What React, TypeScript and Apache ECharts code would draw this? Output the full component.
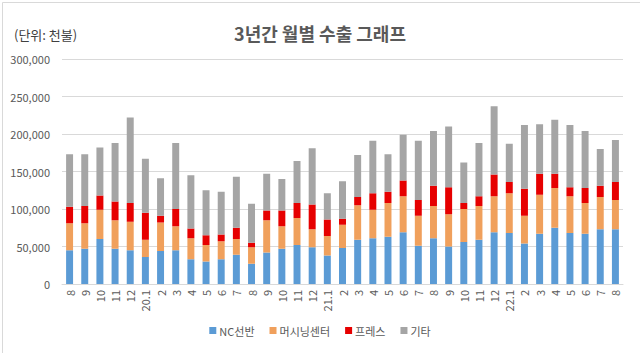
import React, { useEffect, useRef } from "react";
import * as echarts from "echarts";

const categories = [
  "8", "9", "10", "11", "12",
  "20.1", "2", "3", "4", "5", "6", "7", "8", "9", "10", "11", "12",
  "21.1", "2", "3", "4", "5", "6", "7", "8", "9", "10", "11", "12",
  "22.1", "2", "3", "4", "5", "6", "7", "8",
];

const ncLathe = [
  45000, 47000, 60000, 47000, 45000,
  36000, 44000, 45000, 33000, 30000, 33000, 39000, 27000, 42000, 47000, 52000, 49000,
  38000, 48000, 59000, 61000, 63000, 69000, 51000, 61000, 50000, 56000, 59000, 69000,
  68000, 54000, 67000, 75000, 68000, 67000, 73000, 73000,
];
const machiningCenter = [
  36000, 34000, 39000, 38000, 38000,
  23000, 38000, 32000, 28000, 22000, 24000, 21000, 22000, 43000, 30000, 36000, 24000,
  26000, 31000, 46000, 38000, 45000, 48000, 40000, 43000, 43000, 44000, 45000, 48000,
  53000, 37000, 52000, 53000, 49000, 41000, 43000, 39000,
];
const press = [
  22000, 23000, 19000, 25000, 25000,
  36000, 9000, 23000, 13000, 13000, 9000, 15000, 6000, 13000, 21000, 20000, 33000,
  22000, 8000, 11000, 22000, 15000, 21000, 21000, 27000, 36000, 8000, 13000, 29000,
  15000, 36000, 28000, 19000, 12000, 20000, 15000, 24000,
];
const others = [
  70000, 69000, 64000, 78000, 114000,
  72000, 50000, 88000, 71000, 60000, 57000, 68000, 52000, 49000, 42000, 56000, 75000,
  35000, 50000, 56000, 70000, 50000, 61000, 79000, 73000, 81000, 54000, 71000, 91000,
  51000, 85000, 66000, 72000, 83000, 76000, 49000, 56000,
];

const seriesNames = ["NC선반", "머시닝센터", "프레스", "기타"];
const seriesColors = ["#5b9bd5", "#f0a05c", "#e60000", "#a5a5a5"];
const yTicks = [0, 50000, 100000, 150000, 200000, 250000, 300000];

const FONT = "'Noto Sans CJK KR', 'Noto Sans', sans-serif";

export default function App() {
  const ref = useRef<HTMLDivElement>(null);

  useEffect(() => {
    if (!ref.current) return;
    const chart = echarts.init(ref.current, undefined, { renderer: "svg" });
    const data = [ncLathe, machiningCenter, press, others];
    chart.setOption({
      animation: false,
      backgroundColor: "#ffffff",
      textStyle: { fontFamily: FONT },
      title: [
        {
          text: "3년간 월별 수출 그래프",
          left: "center",
          top: 19,
          textStyle: { fontSize: 18, fontWeight: "bold", color: "#595959", fontFamily: FONT },
        },
        {
          text: "(단위: 천불)",
          left: 9,
          top: 23,
          textStyle: { fontSize: 13, fontWeight: "normal", color: "#404040", fontFamily: FONT },
        },
      ],
      legend: {
        bottom: 12,
        left: "center",
        itemWidth: 7,
        itemHeight: 7,
        itemGap: 15,
        icon: "rect",
        data: seriesNames,
        textStyle: { fontSize: 11, color: "#595959", fontFamily: FONT, padding: [0, 0, 0, -2] },
      },
      grid: { left: 62, right: 17, top: 59, bottom: 69, containLabel: false },
      xAxis: {
        type: "category",
        data: categories,
        axisLine: { lineStyle: { color: "#d9d9d9" } },
        axisTick: { show: false },
        axisLabel: {
          rotate: 90,
          interval: 0,
          fontSize: 11,
          color: "#595959",
          margin: 6,
          fontFamily: FONT,
        },
      },
      yAxis: {
        type: "value",
        min: yTicks[0],
        max: yTicks[yTicks.length - 1],
        interval: 50000,
        axisLine: { show: false },
        axisTick: { show: false },
        splitLine: { lineStyle: { color: "#d9d9d9" } },
        axisLabel: {
          fontSize: 11,
          color: "#595959",
          margin: 12,
          fontFamily: FONT,
          formatter: (v: number) => v.toLocaleString("en-US"),
        },
      },
      series: seriesNames.map((name, i) => ({
        name,
        type: "bar",
        stack: "total",
        data: data[i],
        barWidth: "46%",
        itemStyle: { color: seriesColors[i] },
      })),
      graphic: [
        {
          type: "rect",
          left: 0,
          top: 0,
          shape: { x: 0, y: 0, width: 639, height: 352 },
          style: { fill: "none", stroke: "#d9d9d9", lineWidth: 1 },
          silent: true,
        },
      ],
    });
    return () => chart.dispose();
  }, []);

  return (
    <div
      ref={ref}
      style={{ position: "fixed", left: 0, top: 0, width: 640, height: 353 }}
    />
  );
}
